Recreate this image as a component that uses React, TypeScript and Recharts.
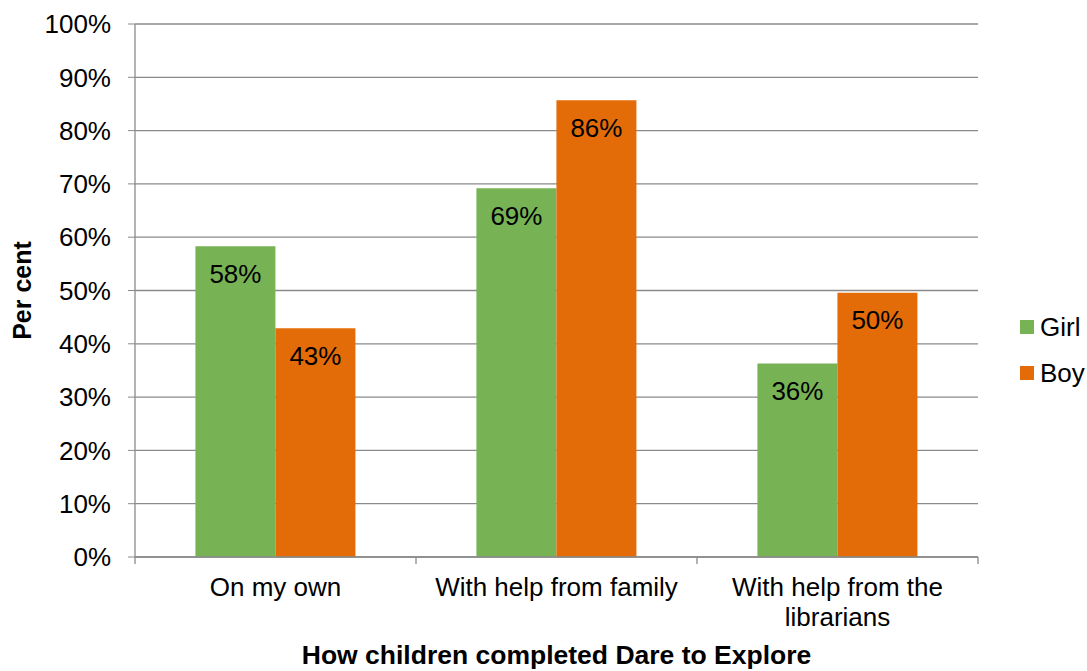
import { Bar, BarChart, CartesianGrid, LabelList, XAxis, YAxis } from 'recharts';

const categories = ['On my own', 'With help from family', 'With help from the\nlibrarians'];
const girlValues = [58.3, 69.2, 36.3];
const boyValues = [42.9, 85.7, 49.6];
const yTicks = [0, 10, 20, 30, 40, 50, 60, 70, 80, 90, 100];

const series = [
  { key: 'girl', name: 'Girl', color: '#77B255' },
  { key: 'boy', name: 'Boy', color: '#E36C09' },
];

const data = categories.map((name, i) => ({ name, girl: girlValues[i], boy: boyValues[i] }));

const GRID = '#8a8a8a';
const FONT = '"Liberation Sans", Arial, sans-serif';
const TICK_GAP = 21;

function CategoryTick(props: any) {
  const { x, y, payload, index } = props;
  const half = payload?.offset ?? 0;
  const axisY = y - TICK_GAP;
  const lines = String(payload.value).split('\n');
  return (
    <g>
      <line x1={x - half} x2={x - half} y1={axisY} y2={axisY + 7} stroke={GRID} strokeWidth={1.3} />
      {index === categories.length - 1 && (
        <line x1={x + half} x2={x + half} y1={axisY} y2={axisY + 7} stroke={GRID} strokeWidth={1.3} />
      )}
      <text x={x} y={y} textAnchor="middle" fontSize={26} fill="#000">
        {lines.map((line, i) => (
          <tspan key={i} x={x} dy={i === 0 ? '0.71em' : 30}>
            {line}
          </tspan>
        ))}
      </text>
    </g>
  );
}

export default function App() {
  return (
    <div style={{ position: 'absolute', left: 0, top: 0, width: 1087, height: 671, fontFamily: FONT, background: '#fff' }}>
      <BarChart
        width={1087}
        height={671}
        data={data}
        margin={{ top: 24, right: 109, left: 0, bottom: 0 }}
        barCategoryGap="21.5%"
        barGap={0}
      >
        <CartesianGrid horizontal vertical={false} stroke={GRID} strokeWidth={1.3} />
        <XAxis
          dataKey="name"
          height={114}
          tickSize={0}
          tickMargin={TICK_GAP}
          tickLine={false}
          axisLine={{ stroke: GRID, strokeWidth: 1.3 }}
          interval={0}
          tick={<CategoryTick />}
          label={{
            value: 'How children completed Dare to Explore',
            position: 'insideBottom',
            offset: 7,
            style: { fontSize: 26.5, fontWeight: 'bold', fill: '#000' },
          }}
        />
        <YAxis
          width={135}
          domain={[0, 100]}
          ticks={yTicks}
          interval={0}
          tickFormatter={(v: number) => `${v}%`}
          tickSize={7}
          tickMargin={17}
          tick={{ fontSize: 26, fill: '#000' }}
          tickLine={{ stroke: GRID }}
          axisLine={{ stroke: GRID, strokeWidth: 1.3 }}
          label={{
            value: 'Per cent',
            angle: -90,
            position: 'insideLeft',
            offset: 22,
            style: { fontSize: 25, fontWeight: 'bold', fill: '#000', textAnchor: 'middle' },
          }}
        />
        {series.map((s) => (
          <Bar key={s.key} dataKey={s.key} name={s.name} fill={s.color} isAnimationActive={false}>
            <LabelList
              dataKey={s.key}
              position="insideTop"
              offset={18}
              formatter={(v: any) => `${Math.round(Number(v))}%`}
              style={{ fontSize: 26, fill: '#000' }}
            />
          </Bar>
        ))}
      </BarChart>
      <div style={{ position: 'absolute', left: 1020, top: 304 }}>
        {series.map((s) => (
          <div key={s.key} style={{ display: 'flex', alignItems: 'center', height: 46 }}>
            <span style={{ width: 14, height: 14, background: s.color, marginRight: 6, display: 'inline-block' }} />
            <span style={{ fontSize: 26, color: '#000' }}>{s.name}</span>
          </div>
        ))}
      </div>
    </div>
  );
}
